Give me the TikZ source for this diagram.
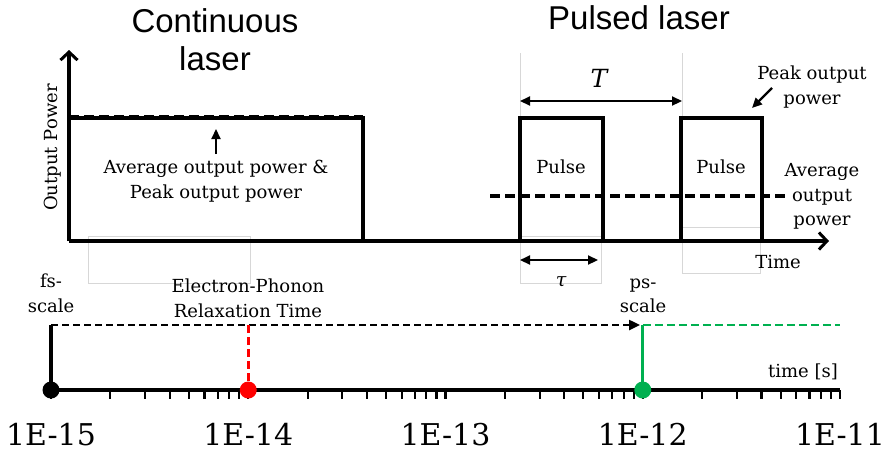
\documentclass[tikz,border=0pt]{standalone}
\usepackage{fontspec}
\setmainfont{DejaVu Serif}
\newfontfamily\titlefont{Liberation Sans}
\usetikzlibrary{arrows.meta}
\definecolor{pgreen}{RGB}{0,176,80}
\definecolor{pred}{RGB}{255,0,0}
\definecolor{boxgray}{RGB}{215,215,215}
\tikzset{
  tri/.tip={Triangle[length=10pt,width=9pt]},
  titletxt/.style={font=\titlefont\fontsize{33}{38}\selectfont, anchor=base, inner sep=0pt},
  txt/.style={font=\fontsize{18}{22}\selectfont, anchor=base, inner sep=0pt},
  bigtxt/.style={font=\fontsize{30}{36}\selectfont, anchor=base, inner sep=0pt},
  axisline/.style={line width=3.2pt},
  avgdash/.style={line width=4pt, dash pattern=on 10pt off 5pt},
  barb/.style={-{Straight Barb[length=8pt,width=17pt,line width=3pt]}},
  thinarrow/.style={line width=2.2pt},
  ghost/.style={draw=boxgray, line width=0.7pt},
  tickline/.style={line width=2.2pt},
  dot/.style={circle, minimum size=17pt, inner sep=0pt},
}
\begin{document}
\begin{tikzpicture}[x=1pt,y=-1pt]
\useasboundingbox (0,0) rectangle (886,453);

% faint text-box outlines
\draw[ghost] (88,236) rectangle (250,283);
\draw[ghost] (520,236) rectangle (601,283);
\draw[ghost] (682,227) rectangle (760,273);
\draw[ghost] (520,53) -- (520,118);
\draw[ghost] (682,53) -- (682,118);

% titles
\node[titletxt] (cont1) at (215,32) {Continuous};
\node[titletxt] (cont2) at (215,70) {laser};
\node[titletxt] (puls) at (639,29) {Pulsed laser};

% axes
\coordinate (O) at (69,241);
\coordinate (Ytop) at (69,50);
\coordinate (Xend) at (829,241);
\draw[axisline, barb] (O) -- (Ytop);
\draw[axisline, barb] (O) -- (Xend);
\node[txt, rotate=90] (ylab) at (57,147.5) {Output Power};

% continuous laser
\coordinate (c1) at (69,118);
\coordinate (c2) at (363,118);
\coordinate (c3) at (363,241);
\draw[axisline] (c1) -- (c2) -- (c3);
\draw[avgdash] (69,117) -- (363,117);
\coordinate (ua1) at (216,154);
\coordinate (ua2) at (216,129);
\draw[thinarrow, -tri] (ua1) -- (ua2);
\node[txt] (avg1) at (216,173) {Average output power \&};
\node[txt] (avg2) at (216,198) {Peak output power};

% pulsed laser
\coordinate (p1a) at (520,241);
\coordinate (p1b) at (603,118);
\coordinate (p1c) at (603,241);
\draw[axisline] (p1a) |- (p1b) -- (p1c);
\coordinate (p2a) at (681,241);
\coordinate (p2b) at (762,118);
\coordinate (p2c) at (762,241);
\draw[axisline] (p2a) |- (p2b) -- (p2c);
\node[txt] (pulse1) at (561,173) {Pulse};
\node[txt] (pulse2) at (721,173) {Pulse};
\coordinate (avL) at (490,196);
\coordinate (avR) at (785,196);
\draw[avgdash] (avL) -- (avR);
\node[txt] (ra1) at (822,176) {Average};
\node[txt] (ra2) at (822,201) {output};
\node[txt] (ra3) at (822,225) {power};
\node[txt] (pk1) at (812,79) {Peak output};
\node[txt] (pk2) at (812,104) {power};
\coordinate (pa1) at (772,88);
\coordinate (pa2) at (752,108);
\draw[thinarrow, -tri] (pa1) -- (pa2);
\coordinate (TL) at (520,101);
\coordinate (TR) at (682,101);
\draw[thinarrow, tri-tri] (TL) -- (TR);
\node[anchor=base, inner sep=0pt, font=\fontsize{25}{30}\selectfont\itshape] (Tlab) at (599,87) {T};
\coordinate (tauL) at (520,260);
\coordinate (tauR) at (598,260);
\draw[thinarrow, tri-tri] (tauL) -- (tauR);
\node[anchor=base, inner sep=0pt, font=\itshape\fontsize{19}{24}\selectfont] (taulab) at (561,286) {τ};
\node[txt] (timelab) at (778,268) {Time};

% lower time scale
\coordinate (b15) at (51,390);
\coordinate (b14) at (248.25,390);
\coordinate (b12) at (642.75,390);
\coordinate (b11) at (840,390);
\coordinate (t15) at (51,325);
\coordinate (t14) at (248.25,325);
\coordinate (t12) at (642.75,325);
\coordinate (t11) at (840,325);
\coordinate (arrEnd) at (640,325);

\draw[axisline] (b15) -- (b11);
\foreach \n in {0,...,3} {
  \foreach \k in {1,...,9} {
    \draw[tickline] ({51+197.25*(\n+log10(\k))},390) -- ++(0,9);
  }
}
\draw[tickline] (840,390) -- ++(0,9);

\draw[axisline] (b15) -- (t15);
\draw[line width=2.4pt, dash pattern=on 7pt off 4pt, -{Triangle[length=11pt,width=10pt]}] (t15) -- (arrEnd);
\draw[pred, line width=3pt, dash pattern=on 8pt off 4pt] (t14) -- (b14);
\draw[pgreen, line width=3pt] (t12) -- (b12);
\draw[pgreen, line width=2.4pt, dash pattern=on 8pt off 4pt] (t12) -- (t11);

\node[dot, fill=black] (d15) at (b15) {};
\node[dot, fill=pred] (d14) at (b14) {};
\node[dot, fill=pgreen] (d12) at (b12) {};

\node[txt] (fs1) at (51,287) {fs-};
\node[txt] (fs2) at (51,312) {scale};
\node[txt] (ep1) at (248,292) {Electron-Phonon};
\node[txt] (ep2) at (248,317) {Relaxation Time};
\node[txt] (ps1) at (643,288) {ps-};
\node[txt] (ps2) at (643,312) {scale};
\node[txt, anchor=base east] (tsl) at (838,377) {time [s]};

\node[bigtxt] (l15) at (51,445) {1E-15};
\node[bigtxt] (l14) at (248.25,445) {1E-14};
\node[bigtxt] (l13) at (445.5,445) {1E-13};
\node[bigtxt] (l12) at (642.75,445) {1E-12};
\node[bigtxt] (l11) at (840,445) {1E-11};
\end{tikzpicture}
\end{document}
